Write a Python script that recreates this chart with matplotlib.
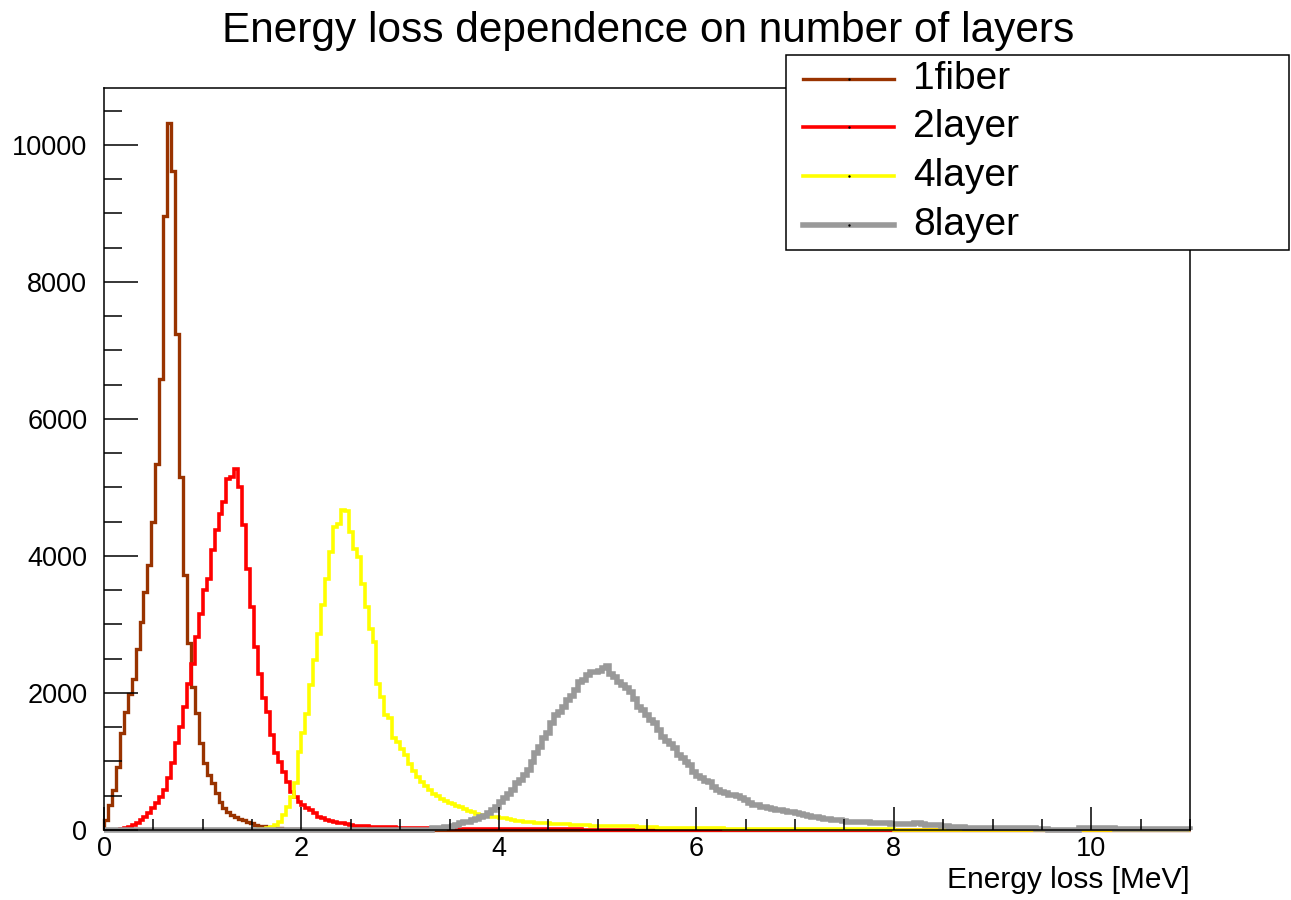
#!/usr/bin/env python3
"""
Energy loss histograms for 1 fibre and 2/4/8 fibre layers (ROOT style look).
Output: out.png
"""

import numpy as np
import matplotlib
matplotlib.use("Agg")
import matplotlib.pyplot as plt
from matplotlib.lines import Line2D
from matplotlib.patches import Rectangle

plt.rcParams["font.family"] = ["Liberation Sans", "DejaVu Sans"]

# ── Histogram binning: 0 .. 11 MeV, 0.04 MeV per bin ─────────────────────────
BIN_WIDTH = 0.04
N_BINS = 275

# ── Bin contents, each list starts at bin index *_start ──
fiber1_start = 0
fiber1 = [146, 364, 583, 923, 1409, 1725, 1992, 2211, 2648, 3037, 3474, 3863,
          4490, 5335, 6589, 8956, 10312, 9623, 7238, 5146, 3720, 2730, 2088,
          1701, 1263, 972, 802, 680, 535, 413, 316, 267, 219, 194, 160, 140,
          121, 97, 80, 65, 55, 45, 38, 30, 25, 20, 15, 12, 10, 8, 5, 3]

layer2_start = 3
layer2 = [5, 12, 25, 45, 70, 100, 140, 190, 250, 320, 400, 486, 583, 753, 972,
          1263, 1506, 1798, 2138, 2430, 2818, 3158, 3499, 3669, 4082, 4373,
          4616, 4786, 5126, 5150, 5272, 5005, 4446, 3814, 3256, 2673, 2280,
          1930, 1725, 1385, 1118, 996, 850, 705, 559, 486, 413, 364, 316, 292,
          243, 194, 170, 146, 131, 112, 97, 97, 83, 73, 58, 60, 58, 55, 50,
          45, 42, 40, 40, 38, 38, 36, 35, 35, 34, 33, 32, 32, 30, 30, 28, 27,
          25, 24, 22, 21, 20, 20, 19, 19, 19, 18, 18, 18, 17, 17, 17, 16, 16,
          16, 15, 15, 15, 14, 14, 14, 13, 13, 13, 12, 12, 12, 11, 11, 10, 10,
          9, 9, 6, 6, 5, 5, 5, 4, 4, 4, 3, 3, 3, 3, 2, 2, 2, 2, 2, 1, 1, 1]

layer4_start = 38
layer4 = [5, 10, 18, 30, 48, 73, 121, 219, 340, 486, 680, 1142, 1409, 1700,
          2114, 2478, 2867, 3280, 3669, 4057, 4422, 4470, 4665, 4650, 4349,
          4106, 3985, 3596, 3256, 2940, 2745, 2138, 1944, 1676, 1628, 1340,
          1290, 1180, 1090, 960, 860, 780, 700, 640, 580, 530, 495, 455, 425,
          400, 375, 350, 330, 310, 280, 260, 240, 225, 219, 205, 194, 185, 175,
          170, 165, 145, 136, 125, 117, 115, 112, 107, 105, 100, 95, 90, 87,
          87, 85, 85, 80, 78, 75, 70, 68, 65, 65, 62, 60, 58, 58, 57, 56, 55,
          55, 54, 52, 50, 48, 45, 42, 38, 35, 30, 30, 29, 28, 28, 27, 26, 26,
          25, 25, 24, 24, 23, 23, 22, 22, 21, 21, 20, 20, 20, 19, 19, 19, 18,
          18, 18, 17, 17, 16, 16, 16, 15, 15, 15, 15, 15, 15, 15, 15, 15, 15,
          15, 15, 15, 14, 14, 14, 14, 14, 14, 14, 14, 14, 14, 13, 13, 13, 13,
          5, 5, 5, 5, 5, 5, 5, 5, 5, 5, 5, 5, 5, 5, 5]

layer8_start = 83
layer8 = [24, 24, 30, 40, 50, 60, 75, 97, 110, 121, 140, 160, 190, 210, 250,
          290, 330, 413, 462, 530, 590, 680, 729, 800, 880, 990, 1118, 1215,
          1340, 1409, 1555, 1676, 1725, 1798, 1900, 1960, 2041, 2162, 2187,
          2259, 2300, 2308, 2320, 2371, 2390, 2284, 2235, 2162, 2114, 2070,
          2017, 1919, 1798, 1749, 1680, 1600, 1555, 1458, 1361, 1300, 1250,
          1191, 1094, 1045, 990, 948, 851, 790, 753, 720, 705, 632, 590, 559,
          535, 510, 510, 490, 462, 440, 389, 370, 364, 340, 330, 316, 300, 292,
          285, 280, 267, 260, 245, 230, 219, 210, 195, 185, 180, 165, 155, 150,
          146, 140, 130, 121, 120, 115, 112, 112, 110, 105, 100, 97, 97, 95,
          90, 85, 83, 83, 85, 90, 95, 97, 90, 80, 73, 73, 70, 65, 55, 45, 40,
          38, 37, 36, 35, 34, 34, 33, 32, 32, 31, 30, 30, 29, 28, 27, 26, 25,
          24, 23, 22, 21, 20, 18, 5, 4, 3, 3, 3, 4, 4, 5, 24, 24, 24, 24, 24,
          24, 24, 24, 24, 10, 10, 10, 10, 10, 10, 10, 10, 10, 10, 10, 10, 10,
          10, 10, 10, 10, 10, 10]

labels = ["1fiber", "2layer", "4layer", "8layer"]
colors = ["#993300", "#ff0000", "#ffff00", "#999999"]
widths = [2.4, 2.6, 2.6, 4.0]

TITLE = "Energy loss dependence on number of layers"
XLABEL = "Energy loss [MeV]"

W, H = 1291, 900


def full_hist(start, vals):
    h = np.zeros(N_BINS)
    h[start:start + len(vals)] = vals
    return h


def main():
    edges = np.arange(N_BINS + 1) * BIN_WIDTH
    hists = [full_hist(fiber1_start, fiber1),
             full_hist(layer2_start, layer2),
             full_hist(layer4_start, layer4),
             full_hist(layer8_start, layer8)]

    fig = plt.figure(figsize=(W / 100, H / 100), dpi=100)
    ax = fig.add_axes([104 / W, 1 - 830 / H, (1190 - 104) / W, (830 - 88) / H])

    for h, c, lw in zip(hists, colors, widths):
        ax.stairs(h, edges, color=c, lw=lw, baseline=0, clip_on=False)

    ax.set_xlim(0, 11)
    ax.set_ylim(0, 10830)
    ax.set_xticks(np.arange(0, 11, 2))
    ax.set_xticks(np.arange(0, 11.01, 0.5), minor=True)
    ax.set_yticks(np.arange(0, 10001, 2000))
    ax.set_yticks(np.arange(0, 10801, 500), minor=True)

    ax.tick_params(axis="x", which="major", direction="in", length=16.5,
                   width=1.1, labelsize=19.5, pad=4)
    ax.tick_params(axis="x", which="minor", direction="in", length=8,
                   width=1.1)
    ax.tick_params(axis="y", which="major", direction="in", length=24.5,
                   width=1.1, labelsize=19.5, pad=12)
    ax.tick_params(axis="y", which="minor", direction="in", length=13,
                   width=1.1)
    for sp in ax.spines.values():
        sp.set_linewidth(1.1)

    fig.text(0.502, 1 - 31 / H, TITLE, ha="center", va="center", fontsize=30.5)
    fig.text(1190 / W, 1 - 880 / H, XLABEL, ha="right", va="center",
             fontsize=21.5)

    # ── Legend box (ROOT TLegend look) ─────────────────────────────────────────
    fig.add_artist(Rectangle((786 / W, 1 - 250 / H), (1289 - 786) / W,
                             (250 - 55) / H, transform=fig.transFigure,
                             facecolor="white", edgecolor="black", lw=1.1,
                             zorder=10))
    y_rows = [79, 127, 176, 225]
    for lab, c, lw, yr in zip(labels, colors, widths, y_rows):
        yf = 1 - yr / H
        fig.add_artist(Line2D([803 / W, 894 / W], [yf, yf],
                              transform=fig.transFigure, color=c, lw=lw,
                              zorder=11))
        fig.add_artist(Line2D([848.5 / W], [yf], transform=fig.transFigure,
                              marker=".", ms=1.5, color="black", lw=0,
                              zorder=12))
        fig.text(913 / W, yf, lab, ha="left", va="center", fontsize=28,
                 zorder=12)

    fig.savefig("out.png", dpi=100)
    plt.close(fig)


if __name__ == "__main__":
    main()
